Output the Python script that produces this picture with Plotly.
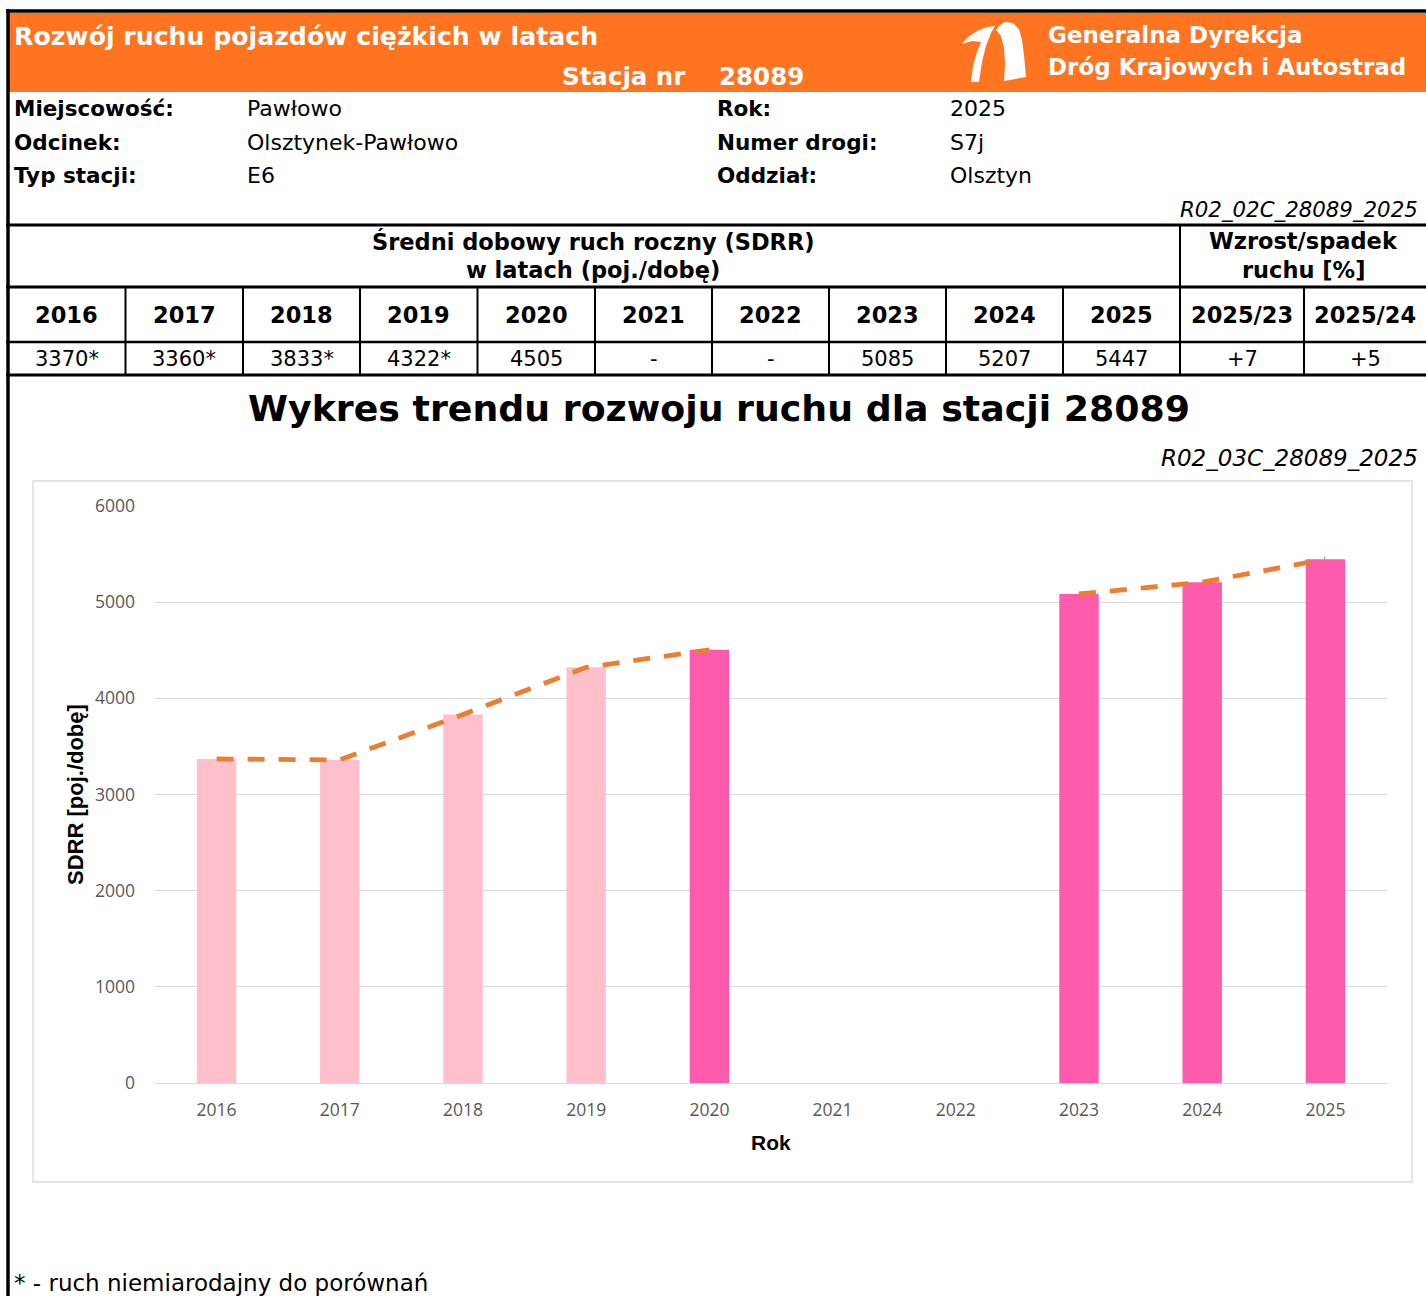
import plotly.graph_objects as go

W, H = 1426, 1296

# ---------------- data ----------------
years = ["2016", "2017", "2018", "2019", "2020", "2021", "2022", "2023", "2024", "2025"]
sdrr = [3370, 3360, 3833, 4322, 4505, None, None, 5085, 5207, 5447]
table_values = ["3370*", "3360*", "3833*", "4322*", "4505", "-", "-", "5085", "5207", "5447"]
not_comparable = [True, True, True, True, False, False, False, False, False, False]
growth_labels = ["2025/23", "2025/24"]
growth_values = ["+7", "+5"]

info_left = [("Miejscowość:", "Pawłowo"), ("Odcinek:", "Olsztynek-Pawłowo"), ("Typ stacji:", "E6")]
info_right = [("Rok:", "2025"), ("Numer drogi:", "S7j"), ("Oddział:", "Olsztyn")]

station = "28089"
y_ticks = [0, 1000, 2000, 3000, 4000, 5000, 6000]

ORANGE = "#FE7421"
PINK_LIGHT = "#FFC0CB"
PINK = "#FF5BAC"
LINE_ORANGE = "#ED7D31"
DV = "DejaVu Sans"
OS = "Open Sans"
LS = "Liberation Sans"


def X(px):
    return px / W


def Y(py):
    return 1 - py / H


shapes = []
annotations = []


def rect(x0, y0, x1, y1, fill, line=None, lw=0):
    d = dict(type="rect", xref="paper", yref="paper", x0=X(x0), x1=X(x1), y0=Y(y1), y1=Y(y0),
             fillcolor=fill, layer="below")
    d["line"] = dict(width=lw, color=line) if line else dict(width=0)
    shapes.append(d)


def hline(y, x0, x1, w, color="black"):
    shapes.append(dict(type="line", xref="paper", yref="paper", x0=X(x0), x1=X(x1), y0=Y(y), y1=Y(y),
                       line=dict(color=color, width=w)))


def vline(x, y0, y1, w, color="black"):
    shapes.append(dict(type="line", xref="paper", yref="paper", x0=X(x), x1=X(x), y0=Y(y0), y1=Y(y1),
                       line=dict(color=color, width=w)))


def poly(points, fill):
    path = "M " + " L ".join(f"{X(a):.5f},{Y(b):.5f}" for a, b in points) + " Z"
    shapes.append(dict(type="path", xref="paper", yref="paper", path=path, fillcolor=fill,
                       line=dict(width=0), layer="above"))


def txt(s, x, y, size, color="black", bold=False, italic=False, anchor="left", family=DV, angle=0):
    if bold:
        s = f"<b>{s}</b>"
    if italic:
        s = f"<i>{s}</i>"
    annotations.append(dict(text=s, x=X(x), y=Y(y), xref="paper", yref="paper", xanchor=anchor,
                            yanchor="middle", showarrow=False, textangle=angle,
                            font=dict(family=family, size=size, color=color)))


# ---------------- header ----------------
rect(7, 13, W, 92, ORANGE)
hline(11, 6, W, 3.5)
vline(8, 9, H, 3.5)

txt("Rozwój ruchu pojazdów ciężkich w latach", 12, 36, 25.2, "white", bold=True)
txt("Stacja nr", 688, 77, 24.5, "white", bold=True, anchor="right")
txt(station, 717, 77, 24.5, "white", bold=True)
txt("Generalna Dyrekcja", 1046, 35, 23, "white", bold=True)
txt("Dróg Krajowych i Autostrad", 1046, 67, 23, "white", bold=True)

# logo (white road shapes, separated by a thin orange gap)
poly([(962, 44), (968, 37), (977, 31), (987, 27), (995, 26), (991, 33), (986, 46), (982, 62),
      (979, 82), (971, 82), (973, 66), (977, 52), (981, 42), (972, 41)], "white")
poly([(999, 26), (1005, 22), (1013, 23), (1019, 29), (1022, 40), (1024, 55), (1026, 77),
      (1004, 81), (1005, 64), (1004, 48), (1001, 36), (996, 30)], "white")

# info rows
for i, (lab, val) in enumerate(info_left):
    yy = 109 + 33 * i
    txt(lab, 12, yy, 21.5, bold=True)
    txt(val, 245, yy, 22)
for i, (lab, val) in enumerate(info_right):
    yy = 109 + 33 * i
    txt(lab, 715, yy, 21.5, bold=True)
    txt(val, 948, yy, 22)

txt("R02_02C_28089_2025", 1420, 209, 21.3, italic=True, anchor="right")

# ---------------- table ----------------
hline(225, 6, W, 3)
hline(287, 6, W, 3)
hline(342, 6, W, 2.5)
hline(375, 6, W, 3)
col_edges = [8, 125.5, 243, 360, 477.5, 595, 712, 829, 946, 1063, 1180, 1304, W]
vline(1180, 225, 375, 2)
for xe in col_edges[1:-1]:
    if xe != 1180:
        vline(xe, 287, 375, 2)

txt("Średni dobowy ruch roczny (SDRR)", 593, 241, 22.5, bold=True, anchor="center")
txt("w latach (poj./dobę)", 593, 270, 22.5, bold=True, anchor="center")
txt("Wzrost/spadek", 1303, 241, 22.5, bold=True, anchor="center")
txt("ruchu [%]", 1303, 270, 22.5, bold=True, anchor="center")

for i, (yr, v) in enumerate(zip(years, table_values)):
    cx = (col_edges[i] + col_edges[i + 1]) / 2
    txt(yr, cx, 315, 22.5, bold=True, anchor="center")
    txt(v, cx, 359, 21, anchor="center")
for j, (g, v) in enumerate(zip(growth_labels, growth_values)):
    cx = (col_edges[10 + j] + col_edges[11 + j]) / 2
    txt(g, cx, 315, 22.5, bold=True, anchor="center")
    txt(v, cx, 359, 21, anchor="center")

# ---------------- chart titles ----------------
txt(f"Wykres trendu rozwoju ruchu dla stacji {station}", 719, 408, 36.3, bold=True, anchor="center")
txt("R02_03C_28089_2025", 1420, 458, 23, italic=True, anchor="right")

# chart frame
rect(33, 481, 1412, 1182, "rgba(0,0,0,0)", line="#D9D9D9", lw=1.3)

txt("SDRR [poj./dobę]", 75, 795, 22, bold=True, anchor="center", family=LS, angle=-90)
txt("Rok", 771, 1142, 21, bold=True, anchor="center", family=LS)

txt("* - ruch niemiarodajny do porównań", 12, 1283, 23)

# ---------------- traces ----------------
bar_colors = [PINK_LIGHT if f else PINK for f in not_comparable]

fig = go.Figure()
fig.add_trace(go.Bar(x=years, y=sdrr, width=0.32, marker=dict(color=bar_colors, line=dict(width=0)),
                     hoverinfo="x+y"))
fig.add_trace(go.Scatter(x=years, y=sdrr, mode="lines", connectgaps=False,
                         line=dict(color=LINE_ORANGE, width=4.8, dash="17px,14px"), hoverinfo="x+y"))

fig.update_layout(
    width=W, height=H,
    autosize=False,
    margin=dict(l=0, r=0, t=0, b=0, pad=0, autoexpand=False),
    paper_bgcolor="white", plot_bgcolor="white",
    showlegend=False,
    shapes=shapes, annotations=annotations,
    xaxis=dict(type="category", domain=[X(155), X(1387)], range=[-0.5, 9.5], automargin=False,
               showgrid=False, showline=False, zeroline=False, ticks="",
               tickfont=dict(family=OS, size=17.5, color="#595959"), ticklabelstandoff=14,
               fixedrange=True),
    yaxis=dict(domain=[Y(1083), Y(506)], range=[0, 6000], tickvals=y_ticks, automargin=False,
               showgrid=True, gridcolor="#D9D9D9", gridwidth=1.3,
               zeroline=True, zerolinecolor="#D9D9D9", zerolinewidth=1.3,
               showline=False, ticks="",
               tickfont=dict(family=OS, size=17.5, color="#595959"), ticklabelstandoff=19,
               fixedrange=True),
)

fig.write_html("out.html", config={"displayModeBar": False, "responsive": False},
               post_script="document.documentElement.style.margin='0';document.body.style.margin='0';"
                           "document.body.style.padding='0';document.body.style.overflow='hidden';")
